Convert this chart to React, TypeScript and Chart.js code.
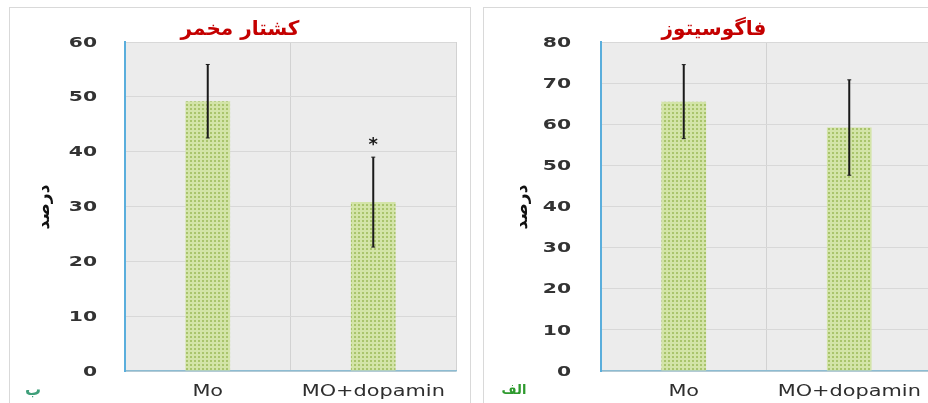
import React, { useEffect, useRef } from "react";
import { Chart, registerables } from "chart.js";

Chart.register(...registerables);

// ---------- data ----------
const categories = ["Mo", "MO+dopamin"];

// panel ب : کشتار مخمر
const yeastTitle = "کشتار مخمر";
const yeastTag = "ب";
const yeastMeans = [49.2, 30.8];
const yeastErrors = [6.7, 8.2];
const yeastMarks = ["", "*"];
const yeastMax = 60;

// panel الف : فاگوسیتوز
const phagoTitle = "فاگوسیتوز";
const phagoTag = "الف";
const phagoMeans = [65.5, 59.2];
const phagoErrors = [9.0, 11.6];
const phagoMarks = ["", ""];
const phagoMax = 80;

const yAxisTitle = "درصد";
const tickStep = 10;

// ---------- helpers ----------
function makePattern(ctx: CanvasRenderingContext2D) {
  const c = document.createElement("canvas");
  c.width = 4;
  c.height = 4;
  const g = c.getContext("2d")!;
  g.fillStyle = "#d3e4a8";
  g.fillRect(0, 0, 4, 4);
  g.fillStyle = "#a9c46c";
  g.fillRect(1, 1, 2, 2);
  return ctx.createPattern(c, "repeat");
}

function stretchText(
  ctx: CanvasRenderingContext2D,
  text: string,
  x: number,
  y: number,
  sx: number,
  align: CanvasTextAlign
) {
  ctx.save();
  ctx.translate(x, y);
  ctx.scale(sx, 1);
  ctx.textAlign = align;
  ctx.fillText(text, 0, 0);
  ctx.restore();
}

type PanelProps = {
  title: string;
  tag: string;
  tagColor: string;
  tagSize: number;
  means: number[];
  errors: number[];
  marks: string[];
  max: number;
  yWidth: number;
  padRight: number;
  yTitleX: number;
  tagX: number;
  titleSize: number;
  left: number;
};

const W = 462;
const H = 396;

function Panel(p: PanelProps) {
  const ref = useRef<HTMLCanvasElement | null>(null);

  useEffect(() => {
    const canvas = ref.current!;
    const ctx = canvas.getContext("2d")!;
    const pattern = makePattern(ctx);

    const decor = {
      id: "decor",
      beforeDraw(chart: any) {
        const { ctx, chartArea } = chart;
        ctx.save();
        ctx.fillStyle = "#ececec";
        ctx.fillRect(chartArea.left, chartArea.top, chartArea.right - chartArea.left, chartArea.bottom - chartArea.top);
        ctx.restore();
      },
      afterDatasetsDraw(chart: any) {
        const { ctx } = chart;
        const ys = chart.scales.y;
        const meta = chart.getDatasetMeta(0);
        ctx.save();
        ctx.strokeStyle = "#1a1a1a";
        ctx.fillStyle = "#1a1a1a";
        p.means.forEach((m, i) => {
          const x = meta.data[i].x;
          const yt = ys.getPixelForValue(m + p.errors[i]);
          const yb = ys.getPixelForValue(m - p.errors[i]);
          ctx.lineWidth = 2;
          ctx.beginPath();
          ctx.moveTo(x, yt);
          ctx.lineTo(x, yb);
          ctx.stroke();
          ctx.lineWidth = 1;
          ctx.beginPath();
          ctx.moveTo(x - 2, yt);
          ctx.lineTo(x + 2, yt);
          ctx.moveTo(x - 2, yb);
          ctx.lineTo(x + 2, yb);
          ctx.stroke();
          if (p.marks[i]) {
            ctx.font = 'bold 18px "DejaVu Sans"';
            ctx.textAlign = "center";
            ctx.textBaseline = "middle";
            ctx.fillText(p.marks[i], x, yt - 12);
          }
        });
        ctx.restore();
      },
      afterDraw(chart: any) {
        const { ctx } = chart;
        const ys = chart.scales.y;
        const xs = chart.scales.x;
        ctx.save();
        // y tick labels
        ctx.fillStyle = "#333333";
        ctx.font = 'bold 14px "DejaVu Sans"';
        ctx.textBaseline = "middle";
        ys.ticks.forEach((t: any) => {
          stretchText(ctx, String(t.value), 88, ys.getPixelForValue(t.value) + 1, 1.45, "right");
        });
        // x labels
        ctx.fillStyle = "#2e2e2e";
        ctx.font = '15px "DejaVu Sans"';
        ctx.textBaseline = "alphabetic";
        categories.forEach((c, i) => {
          stretchText(ctx, c, xs.getPixelForValue(i), 389, 1.39, "center");
        });
        // title
        ctx.fillStyle = "#c40000";
        ctx.font = `bold ${p.titleSize}px "DejaVu Sans"`;
        ctx.textAlign = "center";
        ctx.textBaseline = "middle";
        ctx.fillText(p.title, W / 2, 23);
        // y axis title
        ctx.save();
        ctx.translate(p.yTitleX, 200);
        ctx.rotate(-Math.PI / 2);
        ctx.fillStyle = "#111";
        ctx.font = 'bold 17px "DejaVu Sans"';
        ctx.textAlign = "center";
        ctx.textBaseline = "middle";
        ctx.fillText(yAxisTitle, 0, 0);
        ctx.restore();
        // corner tag
        ctx.fillStyle = p.tagColor;
        ctx.font = `bold ${p.tagSize}px "DejaVu Sans"`;
        ctx.textAlign = "center";
        ctx.textBaseline = "middle";
        ctx.fillText(p.tag, p.tagX, 384);
        ctx.restore();
      },
    };

    const chart = new Chart(canvas, {
      type: "bar",
      data: {
        labels: categories,
        datasets: [
          {
            data: p.means,
            backgroundColor: pattern as any,
            borderWidth: 0,
            barPercentage: 0.27,
            categoryPercentage: 1,
          },
        ],
      },
      options: {
        responsive: false,
        animation: false,
        devicePixelRatio: 1,
        layout: { padding: { top: 35, right: p.padRight, left: 0, bottom: 0 } },
        plugins: { legend: { display: false }, tooltip: { enabled: false }, title: { display: false } },
        scales: {
          x: {
            ticks: { display: false },
            grid: { color: "#d2d2d2", lineWidth: 1, drawTicks: false, offset: true },
            border: { color: "#8dbcd2", width: 1.5 },
            afterFit: (s: any) => {
              s.height = 32;
            },
          },
          y: {
            min: 0,
            max: p.max,
            ticks: { display: false, stepSize: tickStep },
            grid: { color: "#d8d8d8", lineWidth: 1, drawTicks: false },
            border: { color: "#5aaedc", width: 2 },
            afterFit: (s: any) => {
              s.width = p.yWidth;
            },
          },
        },
      },
      plugins: [decor],
    });
    return () => chart.destroy();
  }, []);

  return (
    <div style={{ position: "absolute", left: p.left, top: 7, width: W, height: H }}>
      <canvas ref={ref} width={W} height={H} style={{ display: "block", width: W, height: H }} />
      <div
        style={{
          position: "absolute",
          left: 0,
          top: 0,
          width: W - 2,
          height: H + 10,
          border: "1px solid #d9d9d9",
          pointerEvents: "none",
        }}
      />
    </div>
  );
}

export default function App() {
  return (
    <div
      style={{
        position: "fixed",
        left: 0,
        top: 0,
        width: 928,
        height: 403,
        overflow: "hidden",
        background: "#ffffff",
      }}
    >
      <Panel
        title={yeastTitle}
        tag={yeastTag}
        tagColor="#3f9f7a"
        tagSize={16}
        means={yeastMeans}
        errors={yeastErrors}
        marks={yeastMarks}
        max={yeastMax}
        yWidth={116}
        padRight={15}
        yTitleX={36}
        tagX={24}
        titleSize={20}
        left={9}
      />
      <Panel
        title={phagoTitle}
        tag={phagoTag}
        tagColor="#2e9a2e"
        tagSize={13}
        means={phagoMeans}
        errors={phagoErrors}
        marks={phagoMarks}
        max={phagoMax}
        yWidth={118}
        padRight={13}
        yTitleX={40}
        tagX={31}
        titleSize={20}
        left={483}
      />
    </div>
  );
}
